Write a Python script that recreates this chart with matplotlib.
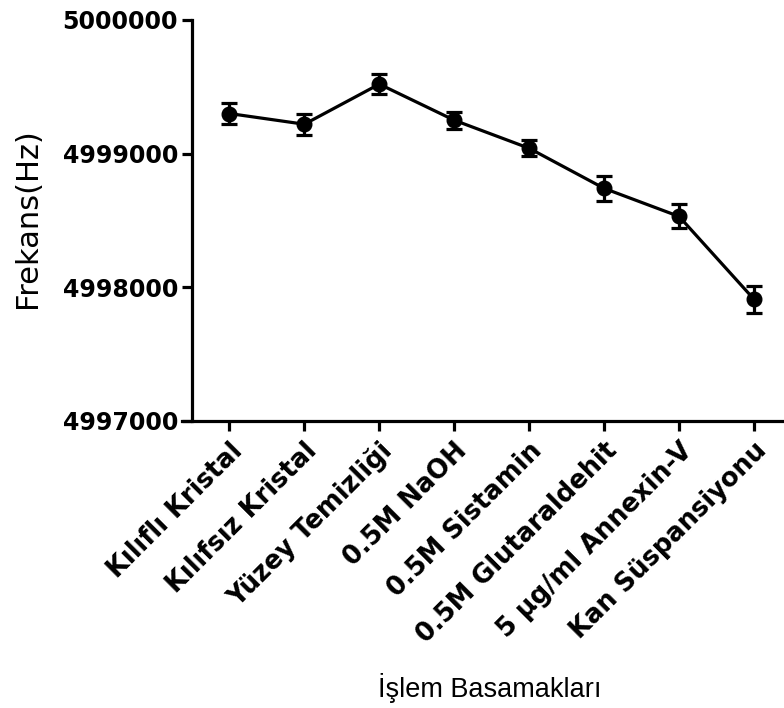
import matplotlib
matplotlib.use("Agg")
import matplotlib.pyplot as plt

categories = ["Kılıflı Kristal", "Kılıfsız Kristal", "Yüzey Temizliği", "0.5M NaOH",
              "0.5M Sistamin", "0.5M Glutaraldehit", "5 µg/ml Annexin-V", "Kan Süspansiyonu"]
values = [4999300, 4999220, 4999520, 4999250, 4999040, 4998740, 4998530, 4997910]
errors = [80, 80, 75, 65, 60, 95, 90, 100]
yticks = [4997000, 4998000, 4999000, 5000000]

plt.rcParams['font.family'] = ['DejaVu Sans']

fig = plt.figure(figsize=(7.84, 7.08), dpi=100)
ax = fig.add_axes([0.2321, 0.4054, 0.7775, 0.5664])

x = list(range(len(categories)))
ax.errorbar(x, values, yerr=errors, color='black', marker='o', markersize=10.5,
            linewidth=2.3, elinewidth=2.3, capsize=6, capthick=2.3, clip_on=False)

ax.set_xlim(-0.633, 7.5)
ax.set_ylim(4997000, 5000000)
ax.spines['left'].set_position(('data', -0.5))
for s in ['top', 'right']:
    ax.spines[s].set_visible(False)
for s in ['left', 'bottom']:
    ax.spines[s].set_linewidth(2.3)

ax.set_yticks(yticks)
ax.set_yticklabels([str(v) for v in yticks], fontsize=17, fontweight='bold')
ax.set_xticks(x)
ax.set_xticklabels(categories, rotation=45, ha='right', rotation_mode='anchor',
                   fontsize=18.5, fontweight='bold')
ax.tick_params(axis='both', direction='out', length=7, width=2.3, pad=3)
ax.tick_params(axis='x', pad=5)

ax.set_ylabel("Frekans(Hz)", fontsize=22, fontweight='medium')
ax.yaxis.set_label_coords(-0.2297, 0.506)
fig.text(0.625, 0.028, "İşlem Basamakları", fontsize=19.5, ha='center', va='center',
         family='Liberation Sans')

fig.savefig("out.png", dpi=100)
